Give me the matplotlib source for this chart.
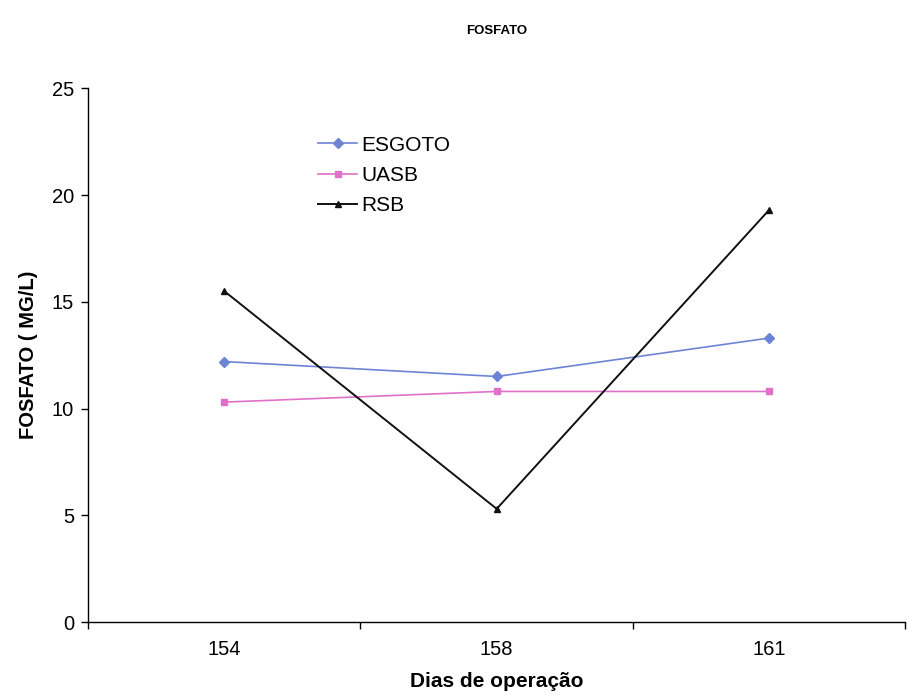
import numpy as np
import matplotlib

matplotlib.use('Agg')

import matplotlib.pyplot as plt

'''Data read from the scanned chart'''

dias    = ['154', '158', '161']
esgoto  = [12.2, 11.5, 13.3]
uasb    = [10.3, 10.8, 10.8]
rsb     = [15.5, 5.3, 19.3]

y_ticks = [0, 5, 10, 15, 20, 25]

plt.rcParams['font.family'] = ['Liberation Sans', 'DejaVu Sans']

fig = plt.figure(figsize=(9.08, 6.95), dpi=100)
ax = fig.add_axes([0.097, 0.105, 0.9, 0.768])

x = np.arange(len(dias))

ax.plot(x, esgoto, color='#6d84d4', lw=1.2, marker='D', ms=5, label='ESGOTO')
ax.plot(x, uasb, color='#e070c8', lw=1.2, marker='s', ms=5, label='UASB')
ax.plot(x, rsb, color='#111111', lw=1.4, marker='^', ms=5, label='RSB')

ax.set_xlim(-0.5, len(dias) - 0.5)
ax.set_ylim(0, 25)

ax.set_yticks(y_ticks)
ax.tick_params(axis='y', labelsize=14.5, direction='out', length=5, width=1, pad=5)

# category labels centred, tick marks on category boundaries (Excel style)
ax.set_xticks(x)
ax.set_xticklabels(dias)
ax.set_xticks(np.arange(len(dias) + 1) - 0.5, minor=True)
ax.tick_params(axis='x', which='major', labelsize=14.5, length=0, pad=13)
ax.tick_params(axis='x', which='minor', direction='out', length=5, width=1)

for side in ['top', 'right']:
	ax.spines[side].set_visible(False)
for side in ['left', 'bottom']:
	ax.spines[side].set_linewidth(1.0)

ax.set_xlabel('Dias de operação', fontsize=15, fontweight='bold', labelpad=9)
ax.set_ylabel('FOSFATO ( MG/L)', fontsize=14.5, fontweight='bold', labelpad=10)

fig.text(0.547, 0.955, 'FOSFATO', ha='center', va='center', fontsize=9.5, fontweight='bold')

ax.legend(loc='upper left', bbox_to_anchor=(0.334, 0.826), bbox_transform=fig.transFigure,
	frameon=False, fontsize=15, handlelength=1.9, handletextpad=0.2, labelspacing=0.55,
	borderpad=0.2)

fig.savefig('out.png', dpi=100)
